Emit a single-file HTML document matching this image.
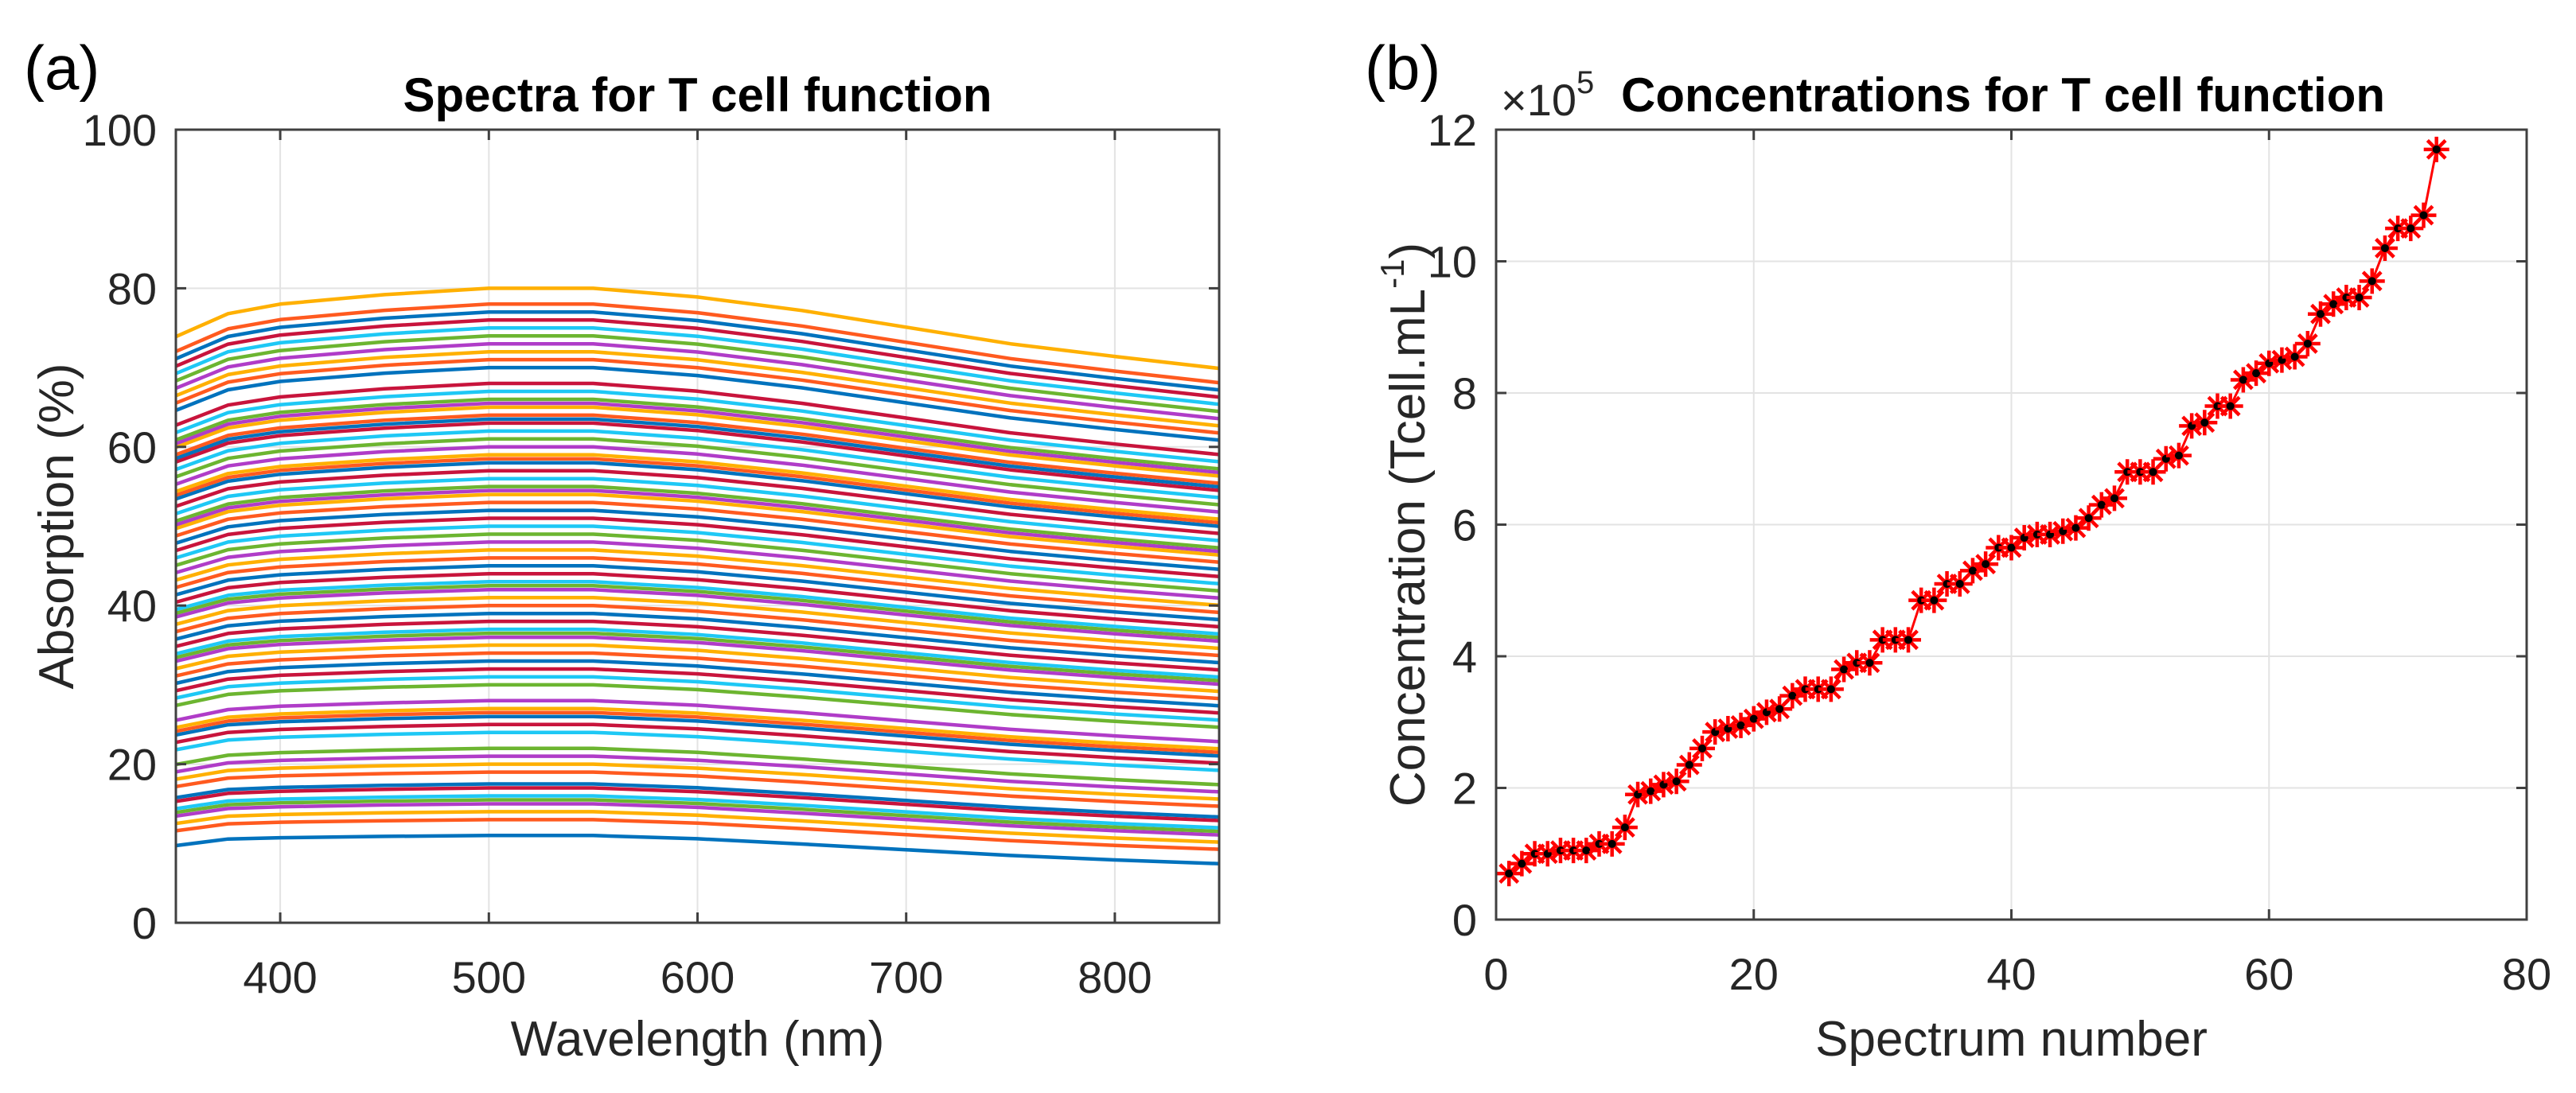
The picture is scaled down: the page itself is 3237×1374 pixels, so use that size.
<!DOCTYPE html>
<html><head><meta charset="utf-8"><style>
html,body{margin:0;padding:0;background:#fff;}
svg{display:block;font-family:"Liberation Sans",Arial,sans-serif;}
</style></head><body>
<svg id="fig" width="3237" height="1374" viewBox="0 0 3237 1374" xmlns="http://www.w3.org/2000/svg">
<rect width="3237" height="1374" fill="#fff"/>
<text x="30" y="112" font-size="78" fill="#000">(a)</text>
<text x="1715" y="112" font-size="78" fill="#000">(b)</text>
<g id="left"></g>
<g id="right"></g>
</svg>
<script>
// ---- Left chart data ----
const waveNodes = [350,375,400,450,500,550,600,650,700,750,800,850];
const shapeProfile = [0.93,0.96,0.975,0.99,1.0,1.0,0.99,0.975,0.955,0.935,0.92,0.905];
const shapeOffset = [-0.5,0,0,0,0,0,-0.3,-0.8,-1.3,-1.8,-2.2,-2.5];
const peakLevels = [11,13,14,15,15.5,16,17,17.5,19,20,21,22,24,25,26,26.5,27,28,30,31,32,33,34,35,36,36.5,37,38,39,40,41,42,42.5,43,44,45,46,47,48,49,50,51,52,53,54,54.5,55,56,57,58,58.5,59,60,61,62,63,63.5,64,65,65.5,66,67,68,70,71,72,73,74,75,76,77,78,80];
const leftXTicks = [400,500,600,700,800];
const leftYTicks = [0,20,40,60,80,100];
const seriesColors = ["#0072BD","#FF5A1F","#FFB000","#B03CC8","#6CB530","#1EC8F5","#C8143C"];
// ---- Right chart data ----
const spectrumIdx = Array.from({length:73},(_,i)=>i+1);
const concValues = [0.7,0.85,1.0,1.0,1.05,1.05,1.05,1.15,1.15,1.4,1.9,1.95,2.05,2.1,2.35,2.6,2.85,2.9,2.95,3.05,3.15,3.2,3.4,3.5,3.5,3.5,3.8,3.9,3.9,4.25,4.25,4.25,4.85,4.85,5.1,5.1,5.3,5.4,5.65,5.65,5.8,5.85,5.85,5.9,5.95,6.1,6.3,6.4,6.8,6.8,6.8,7.0,7.05,7.5,7.55,7.8,7.8,8.2,8.3,8.45,8.5,8.55,8.75,9.2,9.35,9.45,9.45,9.7,10.2,10.5,10.5,10.7,11.7];
const rightXTicks = [0,20,40,60,80];
const rightYTicks = [0,2,4,6,8,10,12];

const NS="http://www.w3.org/2000/svg";
function mk(parent,tag,attrs){const e=document.createElementNS(NS,tag);for(const k in attrs)e.setAttribute(k,attrs[k]);parent.appendChild(e);return e;}

function axesFrame(g,L,R,T,B,xt,yt,sx,sy,name){
  for(const v of xt){const x=sx(v);
    const gl=mk(g,'line',{x1:x,x2:x,y1:T,y2:B,stroke:'#e3e3e3','stroke-width':2});
    
    }
  for(const v of yt){const y=sy(v);
    const gl=mk(g,'line',{x1:L,x2:R,y1:y,y2:y,stroke:'#e3e3e3','stroke-width':2});
    
    }
}
function axesBox(g,L,R,T,B,xt,yt,sx,sy,name){
  const p=mk(g,'path',{d:`M${L},${T}H${R}V${B}H${L}Z`,fill:'none',stroke:'#404040','stroke-width':3});
  
  
  for(const v of xt){const x=sx(v);
    mk(g,'line',{x1:x,x2:x,y1:B,y2:B-13,stroke:'#404040','stroke-width':3});
    mk(g,'line',{x1:x,x2:x,y1:T,y2:T+13,stroke:'#404040','stroke-width':3});
    const t=mk(g,'text',{x:x,y:B+88,'font-size':56,'text-anchor':'middle',fill:'#262626'});
    t.textContent=v;
    
    }
  for(const v of yt){const y=sy(v);
    mk(g,'line',{x1:L,x2:L+13,y1:y,y2:y,stroke:'#404040','stroke-width':3});
    mk(g,'line',{x1:R,x2:R-13,y1:y,y2:y,stroke:'#404040','stroke-width':3});
    const t=mk(g,'text',{x:L-24,y:y+20,'font-size':56,'text-anchor':'end',fill:'#262626'});
    t.textContent=v;
    
    }
}

// Left chart
(function(){
  const g=document.getElementById('left');
  const L=221,R=1532,T=163,B=1160;
  const sx=v=>L+(v-350)/(850-350)*(R-L);
  const sy=v=>B-(v/100)*(B-T);
  axesFrame(g,L,R,T,B,leftXTicks,leftYTicks,sx,sy,'spectra');
  peakLevels.forEach((pk,i)=>{
    const pts=waveNodes.map((w,j)=>`${sx(w).toFixed(1)},${sy(pk*shapeProfile[j]+shapeOffset[j]).toFixed(1)}`).join(' ');
    const pl=mk(g,'polyline',{points:pts,fill:'none',stroke:seriesColors[i%7],'stroke-width':4.5,'stroke-linejoin':'round'});
    
    
  });
  axesBox(g,L,R,T,B,leftXTicks,leftYTicks,sx,sy,'spectra');
  const tt=mk(g,'text',{x:(L+R)/2,y:140,'font-size':60,'font-weight':'bold','text-anchor':'middle',fill:'#000'});
  tt.textContent='Spectra for T cell function';
  
  
  const xl=mk(g,'text',{x:(L+R)/2,y:1327,'font-size':62,'text-anchor':'middle',fill:'#262626'});
  xl.textContent='Wavelength (nm)';
  
  
  const yl=mk(g,'text',{x:0,y:0,'font-size':62,'text-anchor':'middle',fill:'#262626',transform:`translate(92,${(T+B)/2}) rotate(-90)`});
  yl.textContent='Absorption (%)';
  
  
})();

// Right chart
(function(){
  const g=document.getElementById('right');
  const L=1880,R=3175,T=163,B=1156;
  const sx=v=>L+(v/80)*(R-L);
  const sy=v=>B-(v/12)*(B-T);
  axesFrame(g,L,R,T,B,rightXTicks,rightYTicks,sx,sy,'concentration');
  const pts=spectrumIdx.map((n,i)=>`${sx(n).toFixed(1)},${sy(concValues[i]).toFixed(1)}`).join(' ');
  const pl=mk(g,'polyline',{points:pts,fill:'none',stroke:'#ff0000','stroke-width':3});
  
  
  spectrumIdx.forEach((n,i)=>{
    const cx=sx(n),cy=sy(concValues[i]),r=16,d=r*0.707;
    const m=mk(g,'g',{stroke:'#ff0000','stroke-width':4.5});
    
    
    mk(m,'path',{d:`M${cx-r},${cy}H${cx+r}M${cx},${cy-r}V${cy+r}M${cx-d},${cy-d}L${cx+d},${cy+d}M${cx-d},${cy+d}L${cx+d},${cy-d}`});
    mk(g,'circle',{cx:cx,cy:cy,r:5,fill:'#000'});
  });
  axesBox(g,L,R,T,B,rightXTicks,rightYTicks,sx,sy,'concentration');
  const ex=mk(g,'text',{x:1886,y:145,'font-size':56,fill:'#262626'});
  ex.innerHTML='×10<tspan dy="-28" font-size="40">5</tspan>';
  
  
  const tt=mk(g,'text',{x:2037,y:140,'font-size':60,'font-weight':'bold',fill:'#000'});
  tt.textContent='Concentrations for T cell function';
  
  
  const xl=mk(g,'text',{x:(L+R)/2,y:1327,'font-size':62,'text-anchor':'middle',fill:'#262626'});
  xl.textContent='Spectrum number';
  
  
  const yl=mk(g,'text',{x:0,y:0,'font-size':62,'text-anchor':'middle',fill:'#262626',transform:`translate(1790,${(T+B)/2}) rotate(-90)`});
  yl.innerHTML='Concentration (Tcell.mL<tspan dy="-26" font-size="42">-1</tspan><tspan dy="26">)</tspan>';
  
  
})();
</script>
</body></html>
